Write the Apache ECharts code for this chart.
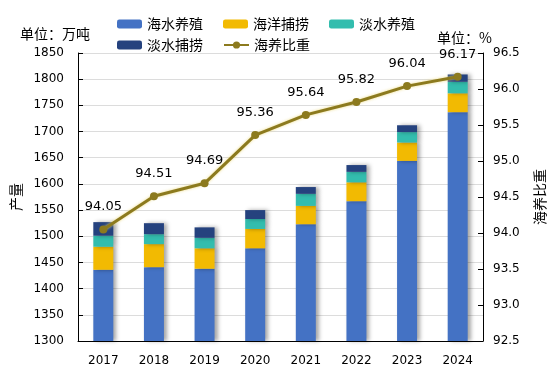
<!DOCTYPE html>
<html><head><meta charset="utf-8">
<script src="https://cdn.jsdelivr.net/npm/echarts@6/dist/echarts.min.js"></script>
<style>html,body{margin:0;padding:0;background:#fff}#c{width:560px;height:378px}</style>
</head><body><div id="c"></div>
<script>
var years = ['2017','2018','2019','2020','2021','2022','2023','2024'];
var marineAqua = [1436, 1441, 1438, 1477, 1523, 1567, 1644, 1737];
var marineCatch = [44, 44, 39, 37, 35, 36, 35, 36];
var freshAqua = [21, 19, 20, 19, 23, 20, 20, 22];
var freshCatch = [26, 21, 20, 17, 13, 13, 13, 14];
var ratio = [94.05, 94.51, 94.69, 95.36, 95.64, 95.82, 96.04, 96.17];
var leftTicks = {min: 1300, max: 1850, interval: 50};
var rightTicks = {min: 92.5, max: 96.5, interval: 0.5};

var cjk = '"Noto Sans CJK SC", sans-serif';
var num = '"DejaVu Sans", sans-serif';
var chart = echarts.init(document.getElementById('c'), null, {renderer: 'canvas'});
var shadow = {shadowColor: 'rgba(0,0,0,0.35)', shadowBlur: 4, shadowOffsetX: 3, shadowOffsetY: 0};
function barSeries(name, data, color) {
  return {name: name, type: 'bar', stack: 'a', data: data, barWidth: 20,
    itemStyle: Object.assign({color: color}, shadow)};
}
chart.setOption({
  animation: false,
  backgroundColor: '#fff',
  grid: {left: 78, right: 77, top: 53, bottom: 37},
  legend: [
    {data: ['海水养殖', '海洋捕捞', '淡水养殖'], left: 112, top: 12, itemWidth: 25, itemHeight: 9, itemGap: 20,
     textStyle: {fontFamily: cjk, fontSize: 14, color: '#000'}},
    {data: ['淡水捕捞', '海养比重'], left: 112, top: 33, itemWidth: 25, itemHeight: 9, itemGap: 20,
     textStyle: {fontFamily: cjk, fontSize: 14, color: '#000'}}
  ],
  graphic: [
    {type: 'text', left: 20, top: 27, style: {text: '单位：万吨', font: '14px "Noto Sans CJK SC"', fill: '#000'}},
    {type: 'text', left: 437, top: 31, style: {text: '单位：%', font: '14px "Noto Sans CJK SC"', fill: '#000'}}
  ],
  xAxis: {type: 'category', data: years,
    axisLine: {lineStyle: {color: '#000', width: 1}},
    axisTick: {inside: true, length: 5, lineStyle: {color: '#000'}},
    axisLabel: {color: '#000', fontFamily: num, fontSize: 12, margin: 14}},
  yAxis: [
    {type: 'value', min: leftTicks.min, max: leftTicks.max, interval: leftTicks.interval,
     name: '产量', nameLocation: 'middle', nameRotate: 90, nameGap: 50,
     nameTextStyle: {fontFamily: cjk, fontSize: 14, color: '#000'},
     axisLine: {show: true, lineStyle: {color: '#000'}},
     axisTick: {show: true, inside: true, length: 5, lineStyle: {color: '#000'}},
     axisLabel: {color: '#000', fontFamily: num, fontSize: 12, margin: 14,
       formatter: function (v) { return String(v); }},
     splitLine: {lineStyle: {color: '#dcdcdc'}}},
    {type: 'value', min: rightTicks.min, max: rightTicks.max, interval: rightTicks.interval,
     name: '海养比重', nameLocation: 'middle', nameRotate: 90, nameGap: 50,
     nameTextStyle: {fontFamily: cjk, fontSize: 14, color: '#000'},
     axisLine: {show: true, lineStyle: {color: '#000'}},
     axisTick: {show: true, inside: true, length: 5, lineStyle: {color: '#000'}},
     axisLabel: {color: '#000', fontFamily: num, fontSize: 12, margin: 10,
       formatter: function (v) { return v.toFixed(1); }},
     splitLine: {show: false}}
  ],
  series: [
    barSeries('海水养殖', marineAqua, '#4472C4'),
    barSeries('海洋捕捞', marineCatch, '#F2BA02'),
    barSeries('淡水养殖', freshAqua, '#33BDAE'),
    barSeries('淡水捕捞', freshCatch, '#25427E'),
    {name: '海养比重', type: 'line', yAxisIndex: 1, data: ratio, symbol: 'circle', symbolSize: 8,
     lineStyle: {color: '#8C7A1E', width: 3, shadowColor: 'rgba(235,215,120,0.9)', shadowBlur: 3},
     itemStyle: {color: '#8C7A1E'},
     label: {show: true, position: 'top', distance: 12, color: '#000', fontFamily: num, fontSize: 13}}
  ]
});
</script></body></html>
